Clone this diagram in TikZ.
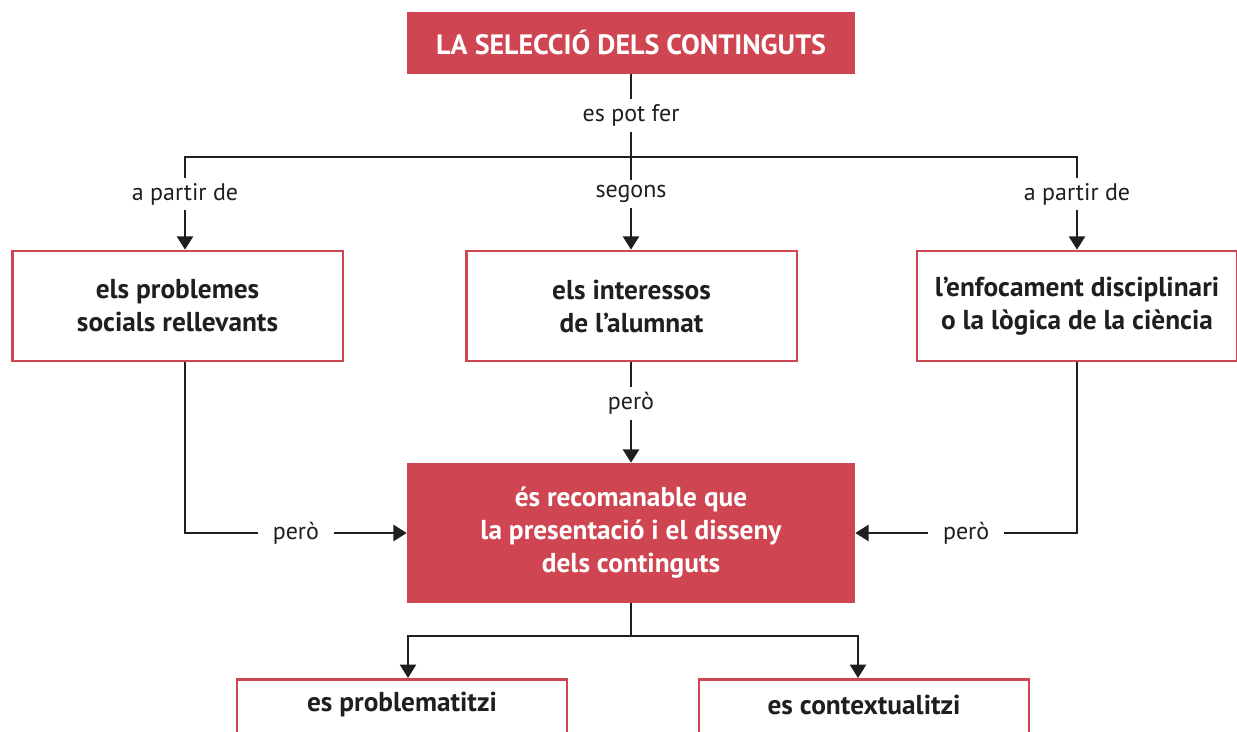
\documentclass[tikz,border=0pt]{standalone}
\usepackage{fontspec}
\setmainfont{PT Sans}
\usetikzlibrary{arrows.meta}
\definecolor{box red}{RGB}{207,70,82}
\colorlet{line ink}{black!88}
\def\boxfont{\bfseries\fontsize{20.5}{24.75}\selectfont}
\tikzset{
  redbox/.style={fill=box red, text=white, font=\boxfont, align=center, inner sep=0pt},
  outbox/.style={draw=box red, line width=2pt, text=line ink, font=\boxfont, align=center, inner sep=0pt},
  lbl/.style={fill=white, text=line ink, font=\fontsize{18}{20}\selectfont, inner xsep=11pt, inner ysep=4pt},
  link/.style={draw=line ink, line width=2pt},
  arr/.style={link, -{Triangle[width=12pt,length=10pt]}},
  thinarr/.style={arr, line width=1.6pt}
}
\begin{document}
\begin{tikzpicture}[x=0.75pt, y=-0.75pt]
    \useasboundingbox (0,0) rectangle (1237,731);
    \clip (0,0) rectangle (1237,731);
    % boxes
    \node[redbox, font=\bfseries\fontsize{21}{24}\selectfont, minimum width=336pt, minimum height=46.5pt] (title) at (631,43) {LA SELECCIÓ DELS CONTINGUTS};
    \node[outbox, minimum width=248pt, minimum height=82.5pt] (left) at (177.5,306) {els problemes\\socials rellevants};
    \node[outbox, minimum width=248pt, minimum height=82.5pt] (mid) at (631.5,306) {els interessos\\de l'alumnat};
    \node[outbox, minimum width=240pt, minimum height=82.5pt] (right) at (1077,306) {l'enfocament disciplinari\\o la lògica de la ciència};
    \node[redbox, minimum width=336pt, minimum height=105pt] (centre) at (631,533) {és recomanable que\\la presentació i el disseny\\dels continguts};
    \node[outbox, minimum width=247.5pt, minimum height=82.5pt, anchor=north] (prob) at (402,678) {};
    \node[outbox, minimum width=247.5pt, minimum height=82.5pt, anchor=north] (cont) at (864,678) {};
    \node[text=line ink, font=\boxfont] (probtext) at ([yshift=-20.25pt]prob.north) {es problematitzi};
    \node[text=line ink, font=\boxfont] (conttext) at ([yshift=-20.25pt]cont.north) {es contextualitzi};
    % connectors
    \coordinate (split) at (631,157);
    \coordinate (lsplit) at (185,157);
    \coordinate (rsplit) at (1077,157);
    \coordinate (fork) at (631,636);
    \draw[link] (title.south) -- node[lbl]{es pot fer} (split);
    \draw[arr] (split) -| node[lbl, pos=.7]{a partir de} (lsplit |- left.north);
    \draw[arr] (split) -| node[lbl, pos=.7]{a partir de} (rsplit |- right.north);
    \draw[arr] (split) -- node[lbl, pos=.4]{segons} (split |- mid.north);
    \draw[arr] (split |- mid.south) -- node[lbl, pos=.41]{però} (centre.north);
    \draw[arr] (lsplit |- left.south) |- node[lbl, pos=.75]{però} (centre.west);
    \draw[arr] (rsplit |- right.south) |- node[lbl, pos=.75]{però} (centre.east);
    \draw[thinarr] (centre.south) -- (fork) -| ([xshift=4.5pt]prob.north);
    \draw[thinarr] (centre.south) -- (fork) -| ([xshift=-4.5pt]cont.north);
\end{tikzpicture}
\end{document}
